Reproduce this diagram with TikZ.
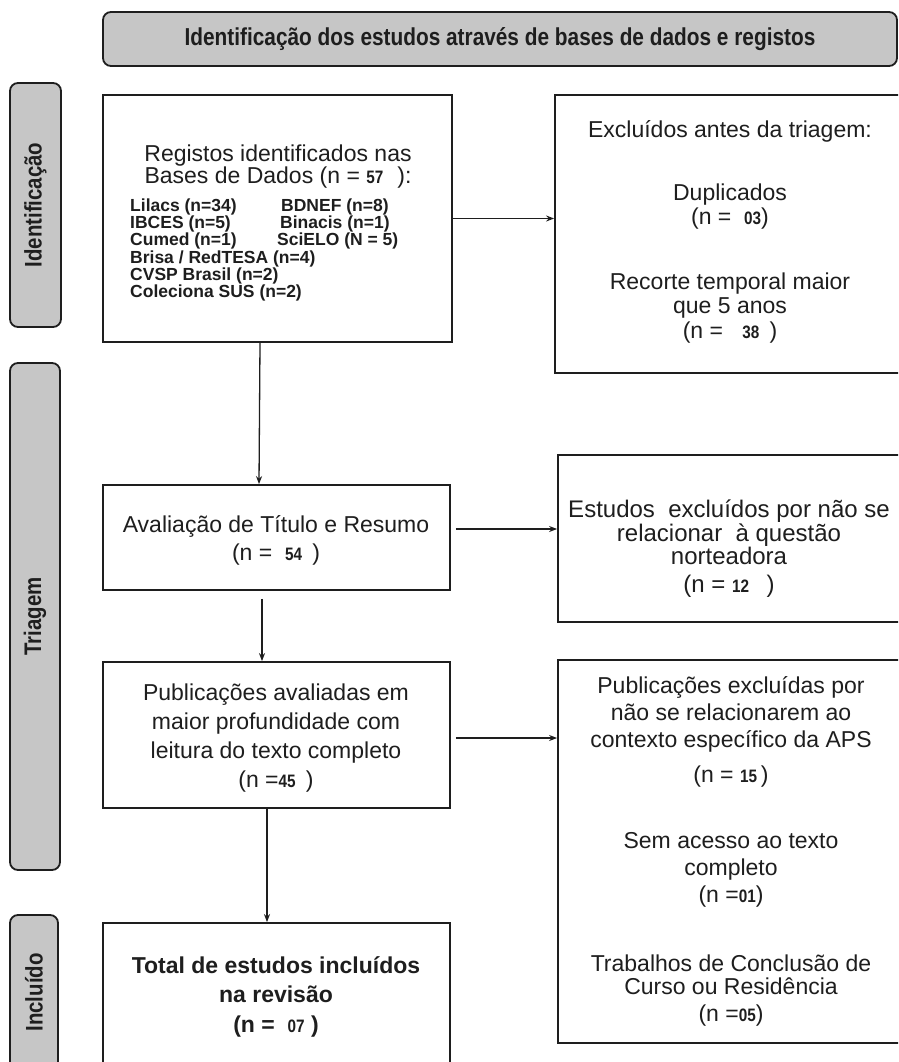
\documentclass[tikz,border=0pt]{standalone}
\usepackage{fontspec}
\setmainfont{Liberation Sans}
\newfontfamily\narrowsans[FakeStretch=0.85]{Liberation Sans}
\usetikzlibrary{arrows.meta,calc}
\definecolor{ink}{HTML}{1E1E1E}
\definecolor{bargray}{HTML}{C6C6C6}
\newcommand{\nb}[1]{{\narrowsans\bfseries\fontsize{18}{18}\selectfont #1}}
\newcommand{\fsz}[2]{\fontsize{#1}{#2}\selectfont}
\begin{document}
\begin{tikzpicture}[x=1pt,y=-1pt,
  box/.style={draw=ink, line width=1.8pt, inner sep=0pt},
  side/.style={draw=ink, line width=1.8pt, fill=bargray, rounded corners=8pt, inner sep=0pt, text=ink, font=\narrowsans\bfseries\fsz{24}{24}},
  txt/.style={inner sep=0pt, text=ink, align=center},
  arr/.style={draw=ink, line width=1.3pt, -{Stealth[length=8pt,width=6pt]}}]
\useasboundingbox (0,0) rectangle (898,1062);
\clip (0,0) rectangle (898,1062);
\fill[white] (0,0) rectangle (898,1062);

% title bar
\node[side, minimum width=794pt, minimum height=54pt, font=\narrowsans\bfseries\fsz{24.5}{24.5}] (title) at (500,39) {Identificação dos estudos através de bases de dados e registos};

% side labels
\node[side, rotate=90, minimum width=244pt, minimum height=51pt] (sid1) at (35.5,205) {Identificação};
\node[side, rotate=90, minimum width=507pt, minimum height=50pt] (sid2) at (35,616.5) {Triagem};
\node[side, rotate=90, minimum width=155pt, minimum height=48pt] (sid3) at (34,992.5) {Incluído};

% boxes
\node[box, minimum width=349pt, minimum height=247pt] (reg) at (277.5,218.5) {};
\node[box, minimum width=350pt, minimum height=278pt] (exc1) at (730,234) {};
\node[box, minimum width=347pt, minimum height=105pt] (aval) at (276.5,537.5) {};
\node[box, minimum width=347pt, minimum height=146pt] (pub) at (276.5,735) {};
\node[box, minimum width=347pt, minimum height=152pt] (tot) at (276.5,999) {};
\node[box, minimum width=347pt, minimum height=167pt] (exc2) at (731.5,538.5) {};
\node[box, minimum width=347pt, minimum height=383pt] (exc3) at (731.5,851.5) {};

% texts
\node[txt, font=\fsz{23}{21}] (regh) at (278,166.5) {Registos identificados nas\\Bases de Dados (n = \nb{57}\hspace{14pt}):};
\node[txt, align=left, anchor=west, font=\bfseries\fsz{17.5}{14.6}] (regl) at (130,250)
 {\makebox[151pt][l]{Lilacs (n=34)}BDNEF (n=8)\\
  \makebox[150pt][l]{IBCES (n=5)}Binacis (n=1)\\
  \makebox[147pt][l]{Cumed (n=1)}SciELO (N = 5)\\
  Brisa / RedTESA (n=4)\\
  CVSP Brasil (n=2)\\
  Coleciona SUS (n=2)};
\node[txt, font=\fsz{23}{24.5}] (exc1t) at (730,232)
 {Excluídos antes da triagem:\\[38pt]
  Duplicados\\
  (n = \ \nb{03})\\[40pt]
  Recorte temporal maior\\
  que 5 anos\\
  (n = \ \ \nb{38} \,)};
\node[txt, font=\fsz{23}{28}] (avalt) at (276,540)
 {Avaliação de Título e Resumo\\(n = \ \nb{54} \,)};
\node[txt, font=\fsz{23}{29.3}] (pubt) at (276,738)
 {Publicações avaliadas em\\maior profundidade com\\leitura do texto completo\\(n =\nb{45} \,)};
\node[txt, font=\bfseries\fsz{23}{29.5}] (tott) at (276,996.5)
 {Total de estudos incluídos\\na revisão\\(n = \ \nb{07} )};
\node[txt, font=\fsz{24}{21}] (exc2t) at (729,549)
 {Estudos \ excluídos por não se\\relacionar \ à questão\\norteadora\\[7pt](n = \nb{12} \ \,)};
\node[txt, font=\fsz{23}{27}] (exc3t) at (731,851.6)
 {Publicações excluídas por\\
  não se relacionarem ao\\
  contexto específico da APS\\[8pt]
  (n = \nb{15}\,)\\[39pt]
  Sem acesso ao texto\\
  completo\\
  (n =\nb{01})\\[42pt]
  Trabalhos de Conclusão de\\[-4pt]
  Curso ou Residência\\
  (n =\nb{05})};

% connectors
\draw[arr] (reg.east) -- (reg.east -| exc1.west);
\draw[arr] ([xshift=-17.5pt]reg.south) -- ([xshift=-17.5pt]aval.north);
\draw[arr, shorten <=5pt] ([yshift=8.5pt]aval.east) -- ([yshift=8.5pt]aval.east -| exc2.west);
\draw[arr, shorten <=8pt] ([xshift=-14.5pt]aval.south) -- ([xshift=-14.5pt]pub.north);
\draw[arr, shorten <=5pt] ([yshift=-3pt]pub.east) -- ([yshift=-3pt]pub.east -| exc3.west);
\draw[arr] ([xshift=-9.5pt]pub.south) -- ([xshift=-9.5pt]tot.north);
\end{tikzpicture}
\end{document}
